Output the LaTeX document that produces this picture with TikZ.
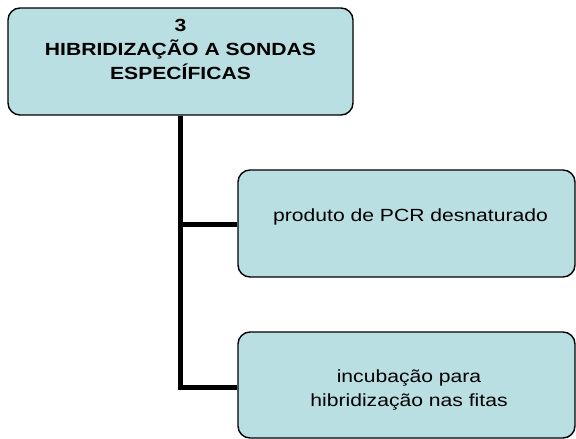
\documentclass[tikz,border=0pt]{standalone}
\usepackage{fontspec}
\setmainfont{Liberation Sans}[FakeStretch=1.2]
\usepackage{tikz}
\definecolor{bbdfe2}{rgb}{0.73,0.875,0.886}

\begin{document}
\begin{tikzpicture}[line cap=butt,line join=miter,x=1pt,y=-1pt,
	box/.style={draw=black,line width=1.4pt,fill=bbdfe2,rounded corners=12pt,inner sep=0pt},
	label/.style={inner sep=0pt,anchor=north,align=center,font=\fontsize{17.6}{23.8}\selectfont},
	conn/.style={line width=4.8pt,color=black}]
			\useasboundingbox (0,0) rectangle (576,439);
			
			\node [box,minimum width=345pt,minimum height=107pt] (top) at (180.5,61.5) {};
			\node [label,font=\fontsize{17.6}{23.8}\selectfont\bfseries] (toptext) at (180.5,19) {3\\HIBRIDIZAÇÃO A SONDAS\\ESPECÍFICAS};
			
			\node [box,minimum width=337pt,minimum height=107pt] (pcr) at (406.5,223.5) {};
			\node [label] (pcrtext) at (410.5,208.5) {produto de PCR desnaturado};
			
			\node [box,minimum width=337pt,minimum height=106pt] (inc) at (406.5,385) {};
			\node [label] (inctext) at (409,369.5) {incubação para\\hibridização nas fitas};
			
			\draw [conn] (top.south) |- ([yshift=-1pt]pcr.west);
			\draw [conn] (top.south) |- ([yshift=-2.5pt]inc.west);
		\end{tikzpicture}
\end{document}
